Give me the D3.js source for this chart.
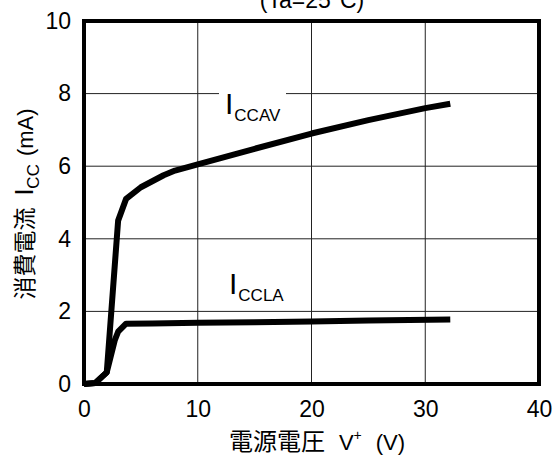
<!DOCTYPE html>
<html>
<head>
<meta charset="utf-8">
<script src="https://cdn.jsdelivr.net/npm/d3@7/dist/d3.min.js"></script>
<style>
  html, body { margin: 0; padding: 0; background: #fff; }
  svg { display: block; }
  text { font-family: "Liberation Sans", Arial, sans-serif; fill: #000; }
  .cjk { font-family: "Noto Sans CJK JP", "Noto Sans CJK SC", sans-serif; }
  .ytitle { opacity: 0.999; }
</style>
</head>
<body>
<svg id="chart" width="555" height="456"></svg>
<script>
// Supply voltage V+ (V) vs. supply current Icc (mA)
const xTicks = [0, 10, 20, 30, 40];
const yTicks = [0, 2, 4, 6, 8, 10];

const iccavV = [0, 1, 2, 3, 3.7, 5, 7, 8, 10, 15, 20, 25, 30, 32.2];
const iccavI = [0, 0.03, 0.32, 4.5, 5.1, 5.42, 5.75, 5.88, 6.05, 6.48, 6.9, 7.27, 7.6, 7.72];

const icclaV = [0, 1, 2, 2.7, 3, 3.7, 6, 10, 15, 20, 25, 32.2];
const icclaI = [0, 0.03, 0.32, 1.2, 1.44, 1.66, 1.67, 1.69, 1.7, 1.72, 1.75, 1.78];

const svg = d3.select("#chart");
const plotL = 84, plotR = 539, plotT = 21, plotB = 384;
const fontLatin = "Liberation Sans, Arial, sans-serif";

const x = d3.scaleLinear().domain([0, 40]).range([plotL, plotR]);
const y = d3.scaleLinear().domain([0, 10]).range([plotB, plotT]);

// grid
const grid = svg.append("g");
grid.selectAll("line.gx").data(xTicks.slice(1, -1)).join("line")
  .attr("x1", d => x(d)).attr("x2", d => x(d))
  .attr("y1", plotT).attr("y2", plotB)
  .attr("stroke", "#222").attr("stroke-width", 1);
grid.selectAll("line.gy").data(yTicks.slice(1, -1)).join("line")
  .attr("x1", plotL).attr("x2", plotR)
  .attr("y1", d => y(d)).attr("y2", d => y(d))
  .attr("stroke", "#222").attr("stroke-width", 1);

// axes (labels only)
const xAxis = svg.append("g")
  .attr("transform", `translate(0,${plotB + 14})`)
  .call(d3.axisBottom(x).tickValues(xTicks).tickSize(0).tickFormat(d3.format("d")));
xAxis.select(".domain").remove();
xAxis.selectAll("text").attr("font-size", 23).attr("font-family", fontLatin).attr("fill", "#000");

const yAxis = svg.append("g")
  .attr("transform", `translate(${plotL - 10},0)`)
  .call(d3.axisLeft(y).tickValues(yTicks).tickSize(0).tickFormat(d3.format("d")));
yAxis.select(".domain").remove();
yAxis.selectAll("text").attr("font-size", 23).attr("font-family", fontLatin).attr("fill", "#000");

// series labels, ICCAV sits on a white box over the 8 mA gridline
function seriesLabel(px, py, sub) {
  const t = svg.append("text").attr("x", px).attr("y", py).attr("font-size", 30).attr("fill", "#000");
  t.append("tspan").text("I");
  t.append("tspan").attr("dy", 7).attr("dx", 1).attr("font-size", 17).text(sub);
}
svg.append("rect").attr("x", 219).attr("y", y(8) - 2).attr("width", 67).attr("height", 4).attr("fill", "#fff");
seriesLabel(225, y(8) + 20, "CCAV");
seriesLabel(229, y(1.6) - 32, "CCLA");

// curves
const line = d3.line().x(d => x(d[0])).y(d => y(d[1]));
[[iccavV, iccavI], [icclaV, icclaI]].forEach(([vs, is]) => {
  svg.append("path")
    .datum(vs.map((v, i) => [v, is[i]]))
    .attr("d", line)
    .attr("fill", "none")
    .attr("stroke", "#000")
    .attr("stroke-width", 6)
    .attr("stroke-linejoin", "round");
});

// frame
svg.append("rect").attr("x", plotL).attr("y", plotT)
  .attr("width", plotR - plotL).attr("height", plotB - plotT)
  .attr("fill", "none").attr("stroke", "#000").attr("stroke-width", 4);

// title (partly above the visible area)
svg.append("text").attr("x", 312).attr("y", 8).attr("text-anchor", "middle")
  .attr("font-size", 23).attr("fill", "#000").text("(Ta=25°C)");

// x axis title
const xt = svg.append("text").attr("x", 317).attr("y", 450).attr("text-anchor", "middle")
  .attr("font-size", 22).attr("fill", "#000");
xt.append("tspan").attr("class", "cjk").attr("font-size", 24).text("電源電圧");
xt.append("tspan").attr("dx", 14).text("V");
xt.append("tspan").attr("dy", -10).attr("font-size", 14).text("+");
xt.append("tspan").attr("dy", 10).attr("dx", 14).text("(V)");

// y axis title
const yt = svg.append("text")
  .attr("class", "ytitle")
  .attr("transform", `translate(33,204) rotate(-90)`)
  .attr("text-anchor", "middle").attr("font-size", 22).attr("fill", "#000");
yt.append("tspan").attr("class", "cjk").attr("font-size", 23).text("消費電流");
yt.append("tspan").attr("dx", 12).attr("font-size", 25).text("I");
yt.append("tspan").attr("dy", 6).attr("font-size", 17).text("CC");
yt.append("tspan").attr("dy", -6).attr("dx", 8).text("(mA)");
</script>
</body>
</html>
